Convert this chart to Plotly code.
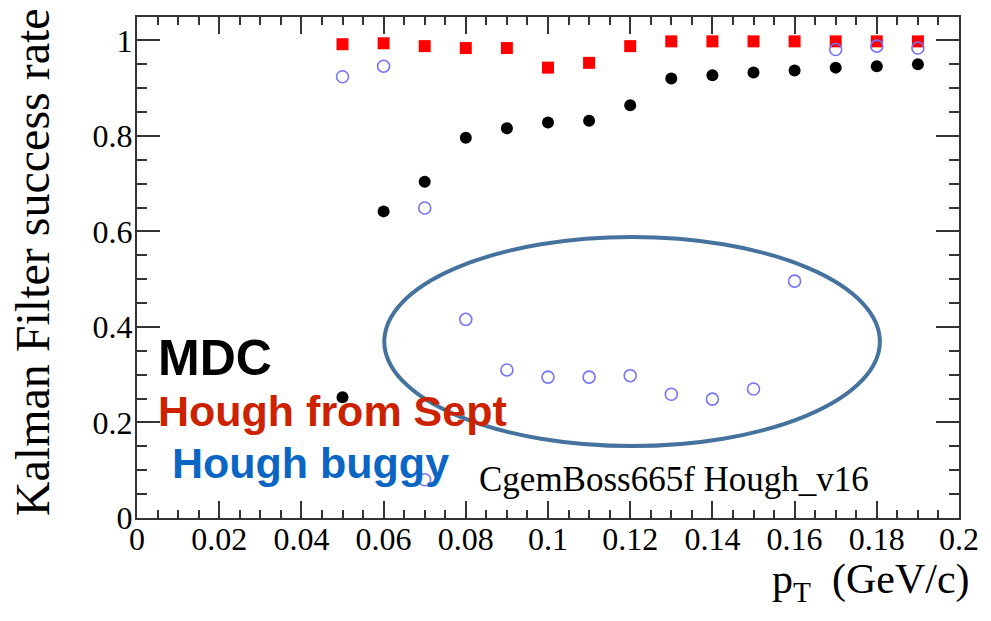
import plotly.graph_objects as go

# ---- data ----
pt = [0.05, 0.06, 0.07, 0.08, 0.09, 0.10, 0.11, 0.12, 0.13, 0.14, 0.15, 0.16, 0.17, 0.18, 0.19]
mdc = [0.253, 0.642, 0.704, 0.796, 0.816, 0.828, 0.832, 0.864, 0.920, 0.927, 0.933, 0.937, 0.943, 0.946, 0.950]
hough_sept = [0.992, 0.994, 0.988, 0.984, 0.984, 0.943, 0.953, 0.988, 0.998, 0.998, 0.998, 0.998, 0.998, 0.998, 0.998]
pt_buggy = [0.05, 0.06, 0.07, 0.07, 0.08, 0.09, 0.10, 0.11, 0.12, 0.13, 0.14, 0.15, 0.16, 0.17, 0.18, 0.19]
hough_buggy = [0.924, 0.946, 0.649, 0.080, 0.416, 0.310, 0.295, 0.295, 0.298, 0.259, 0.249, 0.270, 0.496, 0.981, 0.988, 0.984]

x_ticks = [0, 0.02, 0.04, 0.06, 0.08, 0.1, 0.12, 0.14, 0.16, 0.18, 0.2]
x_ticklabels = ["0", "0.02", "0.04", "0.06", "0.08", "0.1", "0.12", "0.14", "0.16", "0.18", "0.2"]
y_ticks = [0, 0.2, 0.4, 0.6, 0.8, 1.0]
y_ticklabels = ["0", "0.2", "0.4", "0.6", "0.8", "1"]

W, H = 991, 621
L, R, T, B = 137, 23, 17, 103
PW, PH = W - L - R, H - T - B
XR = [0, 0.2]
YR = [0, 1.049]


def px2x(px):
    return XR[0] + (px - L) / PW * (XR[1] - XR[0])


def px2y(py):
    return YR[0] + (T + PH - py) / PH * (YR[1] - YR[0])


SERIF = "Liberation Serif, Times New Roman, serif"
SANS = "Liberation Sans, Arial, sans-serif"

fig = go.Figure()
fig.add_trace(go.Scatter(x=pt, y=mdc, mode="markers", name="MDC",
                         marker=dict(symbol="circle", size=12, color="black")))
fig.add_trace(go.Scatter(x=pt, y=hough_sept, mode="markers", name="Hough from Sept",
                         marker=dict(symbol="square", size=12, color="#ff0000")))
fig.add_trace(go.Scatter(x=pt_buggy, y=hough_buggy, mode="markers", name="Hough buggy",
                         marker=dict(symbol="circle-open", size=12, color="#7373ff",
                                     line=dict(width=1.6, color="#7373ff"))))

# hand-drawn ellipse
fig.add_shape(type="circle", xref="x", yref="y",
              x0=px2x(387), x1=px2x(888), y0=px2y(446), y1=px2y(237),
              line=dict(color="#45739e", width=4))

axis_common = dict(showline=True, linecolor="#333333", linewidth=2, mirror="ticks",
                   ticks="inside", tickcolor="#333333", tickwidth=2,
                   showgrid=False, zeroline=False,
                   tickfont=dict(family=SERIF, size=32, color="black"))

fig.update_xaxes(range=XR, tickvals=x_ticks, ticktext=x_ticklabels, ticklen=17,
                 ticklabelstandoff=-8,
                 minor=dict(dtick=0.005, ticklen=8, ticks="inside", tickcolor="#333333",
                            tickwidth=2, showgrid=False),
                 **axis_common)
fig.update_yaxes(range=YR, tickvals=y_ticks, ticktext=y_ticklabels, ticklen=23,
                 ticklabelstandoff=-4,
                 minor=dict(dtick=0.05, ticklen=10, ticks="inside", tickcolor="#333333",
                            tickwidth=2, showgrid=False),
                 **axis_common)

# texts
fig.add_annotation(x=px2x(156), y=px2y(358), xref="x", yref="y", text="<b>MDC</b>",
                   showarrow=False, xanchor="left", yanchor="middle",
                   font=dict(family=SANS, size=50, color="black"))
fig.add_annotation(x=px2x(156), y=px2y(411), xref="x", yref="y", text="<b>Hough from Sept</b>",
                   showarrow=False, xanchor="left", yanchor="middle",
                   font=dict(family=SANS, size=43, color="#cc2200"))
fig.add_annotation(x=px2x(170), y=px2y(463), xref="x", yref="y", text="<b>Hough buggy</b>",
                   showarrow=False, xanchor="left", yanchor="middle",
                   font=dict(family=SANS, size=43, color="#0a66c2"))
fig.add_annotation(x=px2x(481), y=px2y(479), xref="x", yref="y", text="CgemBoss665f Hough_v16",
                   showarrow=False, xanchor="left", yanchor="middle",
                   font=dict(family=SERIF, size=35, color="black"))

# axis titles
fig.add_annotation(x=(31 - L) / PW, y=(T + PH - 262) / PH, xref="paper", yref="paper",
                   text="Kalman Filter success rate", textangle=-90, showarrow=False,
                   xanchor="center", yanchor="middle",
                   font=dict(family=SERIF, size=48, color="black"))
fig.add_annotation(x=(981 - L) / PW, y=(T + PH - 582) / PH, xref="paper", yref="paper",
                   text="p<sub>T</sub>&nbsp;&nbsp;(GeV/c)", showarrow=False,
                   xanchor="right", yanchor="middle",
                   font=dict(family=SERIF, size=42, color="black"))

fig.update_layout(width=W, height=H, margin=dict(l=L, r=R, t=T, b=B, pad=0),
                  paper_bgcolor="white", plot_bgcolor="white", showlegend=False)

fig.write_html("out.html")
